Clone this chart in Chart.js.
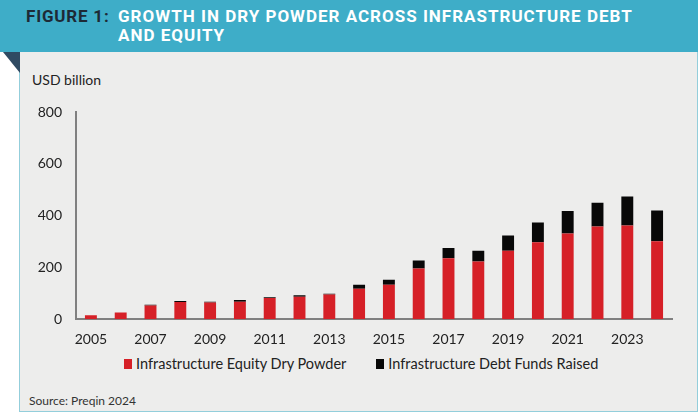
<!DOCTYPE html>
<html>
<head>
<meta charset="utf-8">
<script src="https://cdn.jsdelivr.net/npm/chart.js@4.4.1/dist/chart.umd.min.js"></script>
<style>
  html, body { margin: 0; padding: 0; background: #fff; }
  #page { position: relative; width: 700px; height: 420px; overflow: hidden; font-family: Lato, sans-serif; }
  #head { position: absolute; left: 0; top: 0; width: 698px; height: 52px; background: #3eadc8; }
  #head .t { position: absolute; font-family: Roboto, sans-serif; font-weight: 700; font-size: 17px;
             line-height: 19px; white-space: nowrap; }
  #fig { left: 26px; top: 7px; color: #1d2a36; letter-spacing: 0.8px; }
  #ttl { left: 118px; top: 7px; color: #fff; letter-spacing: 1px; }
  #fold { position: absolute; left: 0; top: 52px; width: 20px; height: 21px; background: #2f4a62;
          clip-path: polygon(15% 0, 100% 0, 100% 100%); }
  #panel { position: absolute; left: 19px; top: 52px; width: 677px; height: 359px; background: #ededec;
           border: 1.5px solid #93cedb; border-top: none; }
  #unit { position: absolute; left: 32px; top: 71px; font-size: 14px; color: #222; }
  #src { position: absolute; left: 29px; top: 393px; font-size: 12px; color: #333; }
  #legend { position: absolute; left: 124px; top: 355px; display: flex; gap: 30px;
            font-size: 14.5px; color: #222; line-height: 17px; }
  #legend .item { display: flex; align-items: center; gap: 4px; }
  #legend .box { width: 8px; height: 10px; }
  canvas { position: absolute; left: 0; top: 0; }
</style>
</head>
<body>
<div id="page">
  <div id="head">
    <div class="t" id="fig">FIGURE 1:</div>
    <div class="t" id="ttl">GROWTH IN DRY POWDER ACROSS INFRASTRUCTURE DEBT<br>AND EQUITY</div>
  </div>
  <div id="panel"></div>
  <div id="fold"></div>
  <div id="unit">USD billion</div>
  <div id="legend"></div>
  <div id="src">Source: Preqin 2024</div>
  <canvas id="myChart" width="700" height="420"></canvas>
</div>
<script>
const years = ['2005', '2006', '2007', '2008', '2009', '2010', '2011', '2012', '2013', '2014',
  '2015', '2016', '2017', '2018', '2019', '2020', '2021', '2022', '2023', '2024'];
const equityDryPowder = [15, 26, 53, 66, 64, 67, 82, 87, 95, 118, 133, 196, 235, 223, 264, 297, 331, 358, 362, 301];
const debtFundsRaised = [0, 0, 3, 4, 3, 7, 3, 5, 3, 15, 19, 31, 40, 41, 59, 76, 87, 92, 112, 119];
const yTicks = [0, 200, 400, 600, 800];

const axisFont = { family: 'Lato', size: 14 };

const data = {
    labels: years,
    datasets: [
        {
            label: 'Infrastructure Equity Dry Powder',
            data: equityDryPowder,
            backgroundColor: '#d62027'
        },
        {
            label: 'Infrastructure Debt Funds Raised',
            data: debtFundsRaised,
            backgroundColor: '#080808'
        }
    ]
};

const config = {
    type: 'bar',
    data: data,
    options: {
        responsive: false,
        animation: false,
        datasets: {
            bar: { categoryPercentage: 1, barPercentage: 0.4 }
        },
        layout: {
            padding: { left: 30, right: 28, top: 112, bottom: 60 }
        },
        plugins: {
            tooltip: { enabled: false },
            legend: { display: false }
        },
        scales: {
            x: {
                stacked: true,
                grid: { display: false, drawTicks: false },
                border: { display: true, color: '#808080', width: 2 },
                ticks: {
                    color: '#222',
                    font: axisFont,
                    padding: 12,
                    autoSkip: false,
                    maxRotation: 0,
                    callback: function (v, i) { return i % 2 === 0 ? years[i] : ''; }
                }
            },
            y: {
                stacked: true,
                min: 0,
                max: 800,
                afterFit: function (scale) { scale.width = 46; },
                afterBuildTicks: function (scale) { scale.ticks = yTicks.map(v => ({ value: v })); },
                grid: { display: false, drawTicks: false },
                border: { display: true, color: '#808080', width: 2 },
                ticks: { color: '#222', font: axisFont, padding: 14 }
            }
        }
    }
};

const ctx = document.getElementById('myChart').getContext('2d');
const chart = new Chart(ctx, config);

// legend as html, built from the datasets
const legendEl = document.getElementById('legend');
chart.data.datasets.forEach(ds => {
    const item = document.createElement('div');
    item.className = 'item';
    const box = document.createElement('span');
    box.className = 'box';
    box.style.background = ds.backgroundColor;
    const txt = document.createElement('span');
    txt.textContent = ds.label;
    item.appendChild(box);
    item.appendChild(txt);
    legendEl.appendChild(item);
});
</script>
</body>
</html>
